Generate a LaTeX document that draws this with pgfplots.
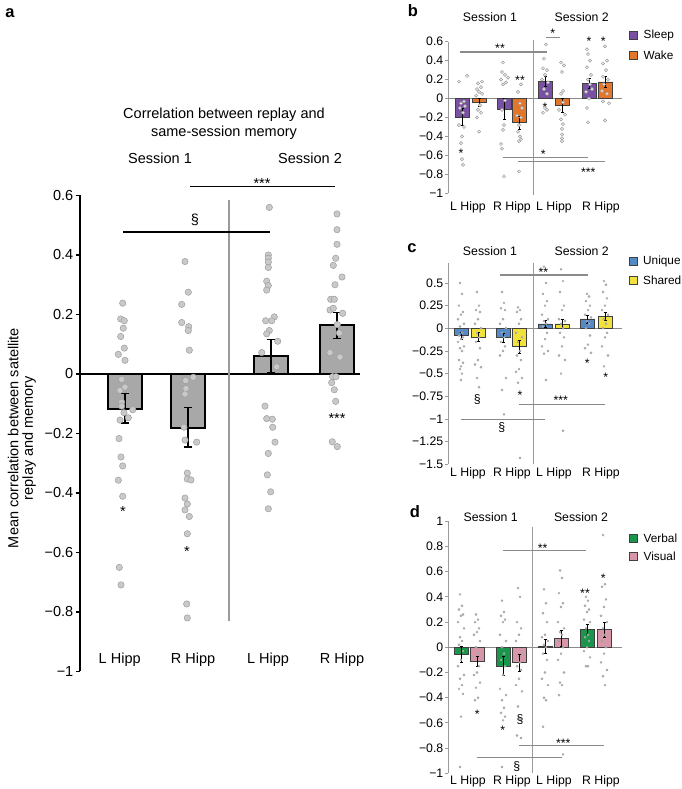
\documentclass[border=0pt]{standalone}
\usepackage{fontspec}
\setmainfont{Liberation Sans}
\usepackage{pgfplots}
\pgfplotsset{compat=1.18}
\definecolor{abar}{HTML}{A8A8A8}
\definecolor{adotf}{HTML}{C9C9C9}
\definecolor{adotd}{HTML}{9E9E9E}
\definecolor{sleep}{HTML}{7A50A2}
\definecolor{wake}{HTML}{E2762A}
\definecolor{uniq}{HTML}{558AC6}
\definecolor{shar}{HTML}{F1E13C}
\definecolor{verb}{HTML}{19964C}
\definecolor{visu}{HTML}{D897A9}
\definecolor{axg}{HTML}{9A9A9A}
\definecolor{anng}{HTML}{8A8A8A}
\definecolor{dotg}{HTML}{9C9C9C}
\definecolor{dotf}{HTML}{BDBDBD}
\newcommand{\fa}{\fontsize{14.5}{14.5}\selectfont}
\newcommand{\fb}{\fontsize{12.3}{14}\selectfont}
\newcommand{\fg}{\fontsize{11.8}{14}\selectfont}
\newcommand{\fl}{\fontsize{16.5}{17}\selectfont\bfseries}
\pgfplotsset{
  panelsm/.style={scale only axis, anchor=south west, axis x line=none, axis y line*=left, clip=false,
    xtick=\empty, tick align=outside, major tick length=3pt,
    y axis line style={axg, line width=0.8pt},
    ytick style={axg, line width=0.8pt},
    yticklabel style={font=\fb, inner sep=1.5pt},
    xmin=448, xmax=622},
  sbar/.style={ybar, bar width=14, bar shift=0pt, draw=black!75, line width=0.6pt, fill=#1},
  serr/.style={draw=none, mark=none, forget plot, error bars/.cd, y dir=both, y explicit,
    error bar style={black, line width=0.7pt}, error mark options={rotate=90, black, mark size=1.5pt, line width=0.7pt}},
  hdots/.style={only marks, mark=*, mark size=1.6pt, mark options={draw=dotg, fill=gray!12, line width=0.5pt}},
  fdots/.style={only marks, mark=*, mark size=1.1pt, mark options={draw=dotg, fill=dotf, line width=0.3pt}},
  zline/.style={anng, line width=0.8pt, forget plot},
}
\tikzset{
  sta/.style={font=\fa, anchor=base, inner sep=0pt, yshift=-8.3pt},
  stb/.style={font=\fb, anchor=base, inner sep=0pt, yshift=-7pt},
  ann/.style={anng, line width=1.1pt},
}
\begin{document}
\begin{tikzpicture}
\path[use as bounding box] (0pt,0pt) rectangle (682pt,789pt);
% ================= Panel a =================
\begin{axis}[scale only axis, at={(80pt,117.5pt)}, anchor=south west, width=280pt, height=476pt,
  xmin=80, xmax=360, ymin=-1, ymax=0.6, clip=false,
  axis x line=none, axis y line*=left, xtick=\empty,
  ytick={-1,-0.8,-0.6,-0.4,-0.2,0,0.2,0.4,0.6},
  yticklabels={−1,−0.8,−0.6,−0.4,−0.2,0,0.2,0.4,0.6},
  tick align=outside, major tick length=4.5pt,
  y axis line style={black, line width=1.4pt},
  ytick style={black, line width=1.4pt},
  yticklabel style={font=\fa, inner sep=2pt}]
\addplot[black, line width=1.4pt, forget plot] coordinates {(80,0) (360,0)};
\draw[axg, line width=1.2pt] (axis cs:229,0.585) -- (axis cs:229,-0.83);
\addplot[ybar, bar width=34, bar shift=0pt, fill=abar, draw=black, line width=2pt]
  coordinates {(125,-0.117) (188,-0.18) (271,0.06) (337,0.166)};
\addplot[only marks, mark=*, mark size=3.2pt, mark options={fill=adotf, draw=adotd, line width=0.5pt}] coordinates {
(122.7,0.238) (120.7,0.185) (124.3,0.179) (123.3,0.154) (120.7,0.126) (124.3,0.087) (118.3,0.066) (125,0.046)
(121.7,-0.018) (120,-0.055) (125,-0.044) (121.7,-0.095) (121.7,-0.108) (124,-0.13) (132.7,-0.12) (120,-0.155)
(128.3,-0.147) (119,-0.217) (121,-0.279) (122.7,-0.309) (118.3,-0.357) (122.7,-0.411) (119.3,-0.65) (121,-0.709)
(185,0.378) (188.3,0.275) (181.7,0.234) (181.7,0.173) (188.7,0.159) (188.3,0.146) (189.3,0.08) (193.3,-0.011)
(185.7,-0.022) (186,-0.049) (185,-0.067) (184,-0.179) (185,-0.222) (196.7,-0.229) (187.3,-0.333) (187.3,-0.353)
(191,-0.356) (185,-0.417) (187.3,-0.437) (185,-0.457) (189.3,-0.479) (187.3,-0.537) (186.7,-0.773) (187.3,-0.82)
(269.3,0.56) (268.3,0.4) (268.3,0.389) (268.3,0.376) (268.3,0.358) (266.7,0.312) (268.3,0.297) (266.7,0.282)
(274.3,0.192) (265.7,0.179) (271.7,0.179) (269.3,0.146) (266.7,0.135) (277.7,0.11) (261.7,0.072) (276.7,0.024)
(265,-0.108) (266.7,-0.15) (272.3,-0.152) (272.7,-0.179) (275,-0.229) (268.3,-0.267) (267.3,-0.339) (270.7,-0.396) (268.3,-0.453)
(337,0.538) (337,0.485) (337,0.436) (335.7,0.389) (333.3,0.365) (342,0.326) (335,0.3) (330.7,0.251) (334.3,0.251)
(330,0.215) (333.3,0.221) (342.7,0.204) (337.3,0.166) (339.3,0.138) (330,0.072) (340,0.057) (332.7,-0.009)
(336,-0.009) (331.7,-0.029) (334.3,-0.053) (335.7,-0.092) (332.3,-0.228) (337.3,-0.244)};
\addplot[draw=none, mark=none, forget plot, error bars/.cd, y dir=both, y explicit,
  error bar style={black, line width=1.3pt}, error mark options={rotate=90, black, mark size=4pt, line width=1.3pt}]
  coordinates {(125,-0.1145) +- (0,0.05) (188,-0.179) +- (0,0.066) (271,0.06) +- (0,0.055) (337,0.1635) +- (0,0.044)};
\draw[black, line width=1.2pt] (axis cs:190,0.629) -- (axis cs:335,0.629);
\node[sta] at (axis cs:262,0.652) {***};
\draw[black, line width=1.2pt] (axis cs:123,0.477) -- (axis cs:270,0.477);
\node[font=\fa] at (axis cs:195,0.518) {§};
\node[sta] at (axis cs:123,-0.45) {*};
\node[sta] at (axis cs:187,-0.585) {*};
\node[sta] at (axis cs:337,-0.138) {***};
\end{axis}
\node[font=\fl] at (10pt,776pt) {a};
\node[font=\fa] at (224pt,674pt) {Correlation between replay and};
\node[font=\fa] at (224pt,656.7pt) {same-session memory};
\node[font=\fa] at (160pt,630.7pt) {Session 1};
\node[font=\fa] at (310pt,630.7pt) {Session 2};
\node[font=\fa, rotate=90, align=center] at (22pt,351pt) {Mean correlation between satellite\\replay and memory};
\node[font=\fa] at (119.7pt,129pt) {L Hipp};
\node[font=\fa] at (193pt,129pt) {R Hipp};
\node[font=\fa] at (268pt,129pt) {L Hipp};
\node[font=\fa] at (342pt,129pt) {R Hipp};
% ================= Panel b =================
\begin{axis}[panelsm, at={(448pt,595.7pt)}, width=174pt, height=151.6pt, ymin=-1, ymax=0.6,
  ytick={-1,-0.8,-0.6,-0.4,-0.2,0,0.2,0.4,0.6},
  yticklabels={−1,−0.8,−0.6,−0.4,−0.2,0,0.2,0.4,0.6}]
\addplot[zline] coordinates {(448,0) (622,0)};
\draw[axg, line width=0.8pt] (axis cs:533.3,0.614) -- (axis cs:533.3,-1.02);
\addplot[sbar=sleep] coordinates {(462,-0.193) (504,-0.112) (545.5,0.182) (589,0.158)};
\addplot[sbar=wake] coordinates {(479,-0.042) (519.5,-0.253) (562,-0.074) (605,0.175)};
\addplot[hdots] coordinates {
(467,0.24) (459,0.18) (464,-0.03) (461,-0.05) (465,-0.08) (460,-0.1) (463,-0.15) (459,-0.28) (464,-0.3) (462,-0.4) (461,-0.47) (462,-0.64) (463,-0.7)
(482,0.18) (478,0.16) (481,0.12) (477,0.1) (479,0.07) (482,0.05) (476,0.03) (480,-0.07) (478,-0.12) (481,-0.15) (477,-0.2) (479,-0.35)
(503,0.38) (502,0.28) (505,0.25) (508,0.22) (501,0.2) (506,0.17) (503,0.15) (505,-0.02) (502,-0.12) (504,-0.28) (503,-0.33) (501,-0.48) (502,-0.53) (504,-0.82)
(521,0.15) (518,0.07) (520,-0.05) (522,-0.1) (517,-0.18) (521,-0.2) (519,-0.28) (518,-0.35) (520,-0.4) (521,-0.43) (519,-0.45) (519,-0.77)
(546,0.57) (544,0.42) (543,0.32) (547,0.3) (545,0.25) (542,0.2) (548,0.17) (544,0.1) (547,0.05) (545,-0.1) (543,-0.15) (547,-0.12)
(561,0.38) (564,0.35) (562,0.28) (563,0.08) (561,0.05) (563,-0.04) (559,-0.12) (565,-0.17) (561,-0.22) (563,-0.27) (562,-0.32) (562,-0.38) (562,-0.42) (562,-0.45)
(587,0.52) (588,0.47) (590,0.4) (587,0.33) (591,0.25) (588,0.2) (590,0.15) (592,0.1) (586,0.07) (589,0.0) (587,-0.1) (588,-0.25)
(605,0.55) (607,0.4) (603,0.37) (606,0.3) (603,0.23) (608,0.2) (604,0.15) (602,0.08) (607,0.05) (603,-0.03) (609,-0.05) (605,-0.23)};
\addplot[serr] coordinates {(462,-0.193) +- (0,0.085) (479,-0.042) +- (0,0.045) (504,-0.112) +- (0,0.11) (519.5,-0.253) +- (0,0.07)
  (545.5,0.182) +- (0,0.055) (562,-0.074) +- (0,0.075) (589,0.158) +- (0,0.055) (605,0.175) +- (0,0.055)};
\draw[ann] (axis cs:460,0.491) -- (axis cs:546.7,0.491);
\node[stb] at (axis cs:500,0.561) {**};
\draw[ann] (axis cs:546,0.642) -- (axis cs:560,0.642);
\node[stb] at (axis cs:552.7,0.72) {*};
\node[stb] at (axis cs:520,0.221) {**};
\node[stb] at (axis cs:461,-0.544) {*};
\node[stb] at (axis cs:545,-0.06) {*};
\node[stb] at (axis cs:589,0.632) {*};
\node[stb] at (axis cs:603.3,0.632) {*};
\draw[ann] (axis cs:503.3,-0.625) -- (axis cs:588.3,-0.625);
\node[stb] at (axis cs:543.3,-0.561) {*};
\draw[ann] (axis cs:518.3,-0.667) -- (axis cs:605,-0.667);
\node[stb] at (axis cs:588.3,-0.747) {***};
\end{axis}
\node[font=\fl] at (413pt,778pt) {b};
\node[font=\fb] at (490pt,772.3pt) {Session 1};
\node[font=\fb] at (581.7pt,772.3pt) {Session 2};
\node[font=\fb] at (468pt,582pt) {L Hipp};
\node[font=\fb] at (512pt,582pt) {R Hipp};
\node[font=\fb] at (554pt,582pt) {L Hipp};
\node[font=\fb] at (601pt,582pt) {R Hipp};
\filldraw[fill=sleep, draw=black!75, line width=0.6pt] (629.3pt,749.3pt) rectangle (637.3pt,757.3pt);
\node[font=\fg, anchor=west, inner sep=0pt] at (643.5pt,753.3pt) {Sleep};
\filldraw[fill=wake, draw=black!75, line width=0.6pt] (629.3pt,730pt) rectangle (637.3pt,738pt);
\node[font=\fg, anchor=west, inner sep=0pt] at (643.5pt,734pt) {Wake};
% ================= Panel c =================
\begin{axis}[panelsm, at={(448pt,324.7pt)}, width=174pt, height=201.3pt, ymin=-1.5, ymax=0.72,
  ytick={-1.5,-1.25,-1,-0.75,-0.5,-0.25,0,0.25,0.5},
  yticklabels={−1.5,−1.25,−1,−0.75,−0.5,−0.25,0,0.25,0.5}]
\addplot[zline] coordinates {(448,0) (622,0)};
\draw[axg, line width=0.8pt] (axis cs:533.3,0.72) -- (axis cs:533.3,-1.5);
\addplot[sbar=uniq] coordinates {(461,-0.081) (503,-0.103) (545,0.048) (587.5,0.103)};
\addplot[sbar=shar] coordinates {(478,-0.099) (519,-0.202) (562,0.048) (605,0.129)};
\addplot[fdots] coordinates {
(460,0.5) (462,0.38) (459,0.25) (463,0.18) (461,0.15) (458,0.1) (464,0.05) (460,0.02) (462,-0.05) (459,-0.08) (463,-0.1)
(461,-0.12) (458,-0.15) (464,-0.2) (460,-0.22) (462,-0.25) (459,-0.35) (463,-0.38) (461,-0.42) (460,-0.45) (462,-0.5) (461,-0.57)
(477,0.4) (479,0.25) (476,0.2) (480,0.18) (478,0.1) (475,0.05) (481,0.0) (477,-0.05) (479,-0.1) (476,-0.15) (480,-0.22) (478,-0.35) (475,-0.4) (481,-0.43) (477,-0.55) (479,-0.65)
(502,0.4) (504,0.28) (501,0.22) (505,0.2) (503,0.1) (500,0.05) (506,0.0) (502,-0.05) (504,-0.1) (501,-0.15) (505,-0.2) (503,-0.25) (500,-0.3) (506,-0.55) (502,-0.68) (504,-0.95)
(518,0.23) (520,0.2) (517,0.18) (521,0.1) (519,0.05) (516,-0.05) (522,-0.1) (518,-0.15) (520,-0.25) (517,-0.3) (521,-0.35) (519,-0.45) (516,-0.48) (522,-0.55) (518,-0.6) (520,-1.43)
(544,0.68) (546,0.5) (543,0.38) (547,0.3) (545,0.25) (542,0.15) (548,0.1) (544,0.08) (546,0.05) (543,0.02) (547,-0.05) (545,-0.12) (542,-0.2) (548,-0.25) (544,-0.28) (546,-0.57)
(561,0.65) (563,0.52) (560,0.4) (564,0.25) (562,0.2) (559,0.1) (565,0.08) (561,0.05) (563,0.0) (560,-0.05) (564,-0.1) (562,-0.2) (559,-0.3) (565,-0.35) (561,-0.5) (563,-1.13)
(587,0.38) (589,0.35) (586,0.3) (590,0.25) (588,0.2) (585,0.15) (591,0.12) (587,0.08) (589,0.05) (586,0.0) (590,-0.08) (588,-0.18) (585,-0.22) (591,-0.27)
(604,0.52) (606,0.48) (603,0.4) (607,0.33) (605,0.25) (602,0.2) (608,0.15) (604,0.1) (606,0.05) (603,0.0) (607,-0.05) (605,-0.1) (602,-0.2) (608,-0.3) (604,-0.42)};
\addplot[serr] coordinates {(461,-0.081) +- (0,0.04) (478,-0.099) +- (0,0.05) (503,-0.103) +- (0,0.05) (519,-0.202) +- (0,0.07)
  (545,0.048) +- (0,0.04) (562,0.048) +- (0,0.05) (587.5,0.103) +- (0,0.045) (605,0.129) +- (0,0.045)};
\draw[ann] (axis cs:500,0.588) -- (axis cs:588.3,0.588);
\node[stb] at (axis cs:543.3,0.643) {**};
\node[font=\fb] at (axis cs:477.3,-0.79) {§};
\node[stb] at (axis cs:520,-0.71) {*};
\draw[ann] (axis cs:519.3,-0.838) -- (axis cs:605,-0.838);
\node[stb] at (axis cs:560.7,-0.761) {***};
\draw[ann] (axis cs:461,-1.004) -- (axis cs:545,-1.004);
\node[font=\fb] at (axis cs:501.7,-1.096) {§};
\node[stb] at (axis cs:587.3,-0.36) {*};
\node[stb] at (axis cs:605.7,-0.515) {*};
\end{axis}
\node[font=\fl] at (412pt,541pt) {c};
\node[font=\fb] at (490pt,538.3pt) {Session 1};
\node[font=\fb] at (581.7pt,538.3pt) {Session 2};
\node[font=\fb] at (468pt,316pt) {L Hipp};
\node[font=\fb] at (512pt,316pt) {R Hipp};
\node[font=\fb] at (554pt,316pt) {L Hipp};
\node[font=\fb] at (601pt,316pt) {R Hipp};
\filldraw[fill=uniq, draw=black!75, line width=0.6pt] (629.3pt,524pt) rectangle (637.3pt,532pt);
\node[font=\fg, anchor=west, inner sep=0pt] at (643pt,528pt) {Unique};
\filldraw[fill=shar, draw=black!75, line width=0.6pt] (629.3pt,504.3pt) rectangle (637.3pt,512.3pt);
\node[font=\fg, anchor=west, inner sep=0pt] at (643pt,508.3pt) {Shared};
% ================= Panel d =================
\begin{axis}[panelsm, at={(448pt,15.7pt)}, width=174pt, height=252pt, ymin=-1, ymax=1,
  ytick={-1,-0.8,-0.6,-0.4,-0.2,0,0.2,0.4,0.6,0.8,1},
  yticklabels={−1,−0.8,−0.6,−0.4,−0.2,0,0.2,0.4,0.6,0.8,1}]
\addplot[zline] coordinates {(448,0) (622,0)};
\draw[axg, line width=0.8pt] (axis cs:532.3,0.958) -- (axis cs:532.3,-1);
\addplot[sbar=verb] coordinates {(461,-0.056) (503,-0.148) (545,0.005) (587,0.14)};
\addplot[sbar=visu] coordinates {(477,-0.114) (519,-0.122) (561,0.071) (604,0.14)};
\addplot[fdots] coordinates {
(460,0.42) (462,0.33) (459,0.3) (463,0.26) (461,0.25) (458,0.2) (464,0.15) (460,0.08) (462,0.05) (459,0.02) (463,-0.03) (461,-0.1) (458,-0.15) (464,-0.22) (460,-0.25) (462,-0.3) (459,-0.33) (463,-0.37) (461,-0.55) (460,-0.95)
(476,0.26) (478,0.22) (475,0.2) (479,0.15) (477,0.12) (474,0.1) (480,0.05) (476,0.0) (478,-0.05) (475,-0.08) (479,-0.15) (477,-0.2) (474,-0.22) (480,-0.28) (476,-0.32) (478,-0.4) (475,-0.42)
(502,0.37) (504,0.28) (501,0.25) (505,0.22) (503,0.2) (500,0.1) (506,0.05) (502,0.0) (504,-0.05) (501,-0.1) (505,-0.15) (503,-0.22) (500,-0.33) (506,-0.38) (502,-0.42) (504,-0.48) (501,-0.52) (505,-0.55) (503,-0.58) (502,-0.95)
(518,0.47) (520,0.4) (517,0.2) (521,0.15) (519,0.1) (516,0.05) (522,-0.05) (518,-0.08) (520,-0.12) (517,-0.15) (521,-0.18) (519,-0.25) (516,-0.3) (522,-0.35) (518,-0.47) (520,-0.57) (517,-0.7) (521,-0.72)
(544,0.46) (546,0.35) (543,0.27) (547,0.2) (545,0.1) (542,0.08) (548,0.05) (544,0.02) (546,0.0) (543,-0.05) (547,-0.1) (545,-0.2) (542,-0.25) (548,-0.3) (544,-0.4) (546,-0.42) (543,-0.63)
(560,0.61) (562,0.55) (559,0.43) (563,0.35) (561,0.32) (558,0.2) (564,0.15) (560,0.12) (562,0.1) (559,0.05) (563,0.0) (561,-0.05) (558,-0.1) (564,-0.2) (560,-0.28) (562,-0.3) (559,-0.38) (563,-0.85)
(586,0.4) (588,0.37) (585,0.33) (589,0.3) (587,0.28) (584,0.22) (590,0.2) (586,0.15) (588,0.1) (585,0.08) (589,0.05) (587,0.0) (584,-0.03) (590,-0.08) (586,-0.15) (588,-0.15)
(603,0.89) (605,0.5) (602,0.48) (606,0.38) (604,0.32) (601,0.25) (607,0.2) (603,0.15) (605,0.1) (602,0.05) (606,0.0) (604,-0.05) (601,-0.12) (607,-0.18) (603,-0.23) (605,-0.3)};
\addplot[serr] coordinates {(461,-0.056) +- (0,0.065) (477,-0.114) +- (0,0.04) (503,-0.148) +- (0,0.075) (519,-0.122) +- (0,0.065)
  (545,0.005) +- (0,0.055) (561,0.071) +- (0,0.06) (587,0.14) +- (0,0.04) (604,0.14) +- (0,0.06)};
\draw[ann] (axis cs:502.7,0.767) -- (axis cs:586,0.767);
\node[stb] at (axis cs:542.7,0.807) {**};
\node[stb] at (axis cs:477.3,-0.511) {*};
\node[stb] at (axis cs:502.7,-0.635) {*};
\node[font=\fb] at (axis cs:520,-0.577) {§};
\node[stb] at (axis cs:585,0.447) {**};
\node[stb] at (axis cs:603.3,0.566) {*};
\draw[ann] (axis cs:519.3,-0.78) -- (axis cs:604,-0.78);
\node[stb] at (axis cs:563.3,-0.741) {***};
\draw[ann] (axis cs:476.7,-0.873) -- (axis cs:561.7,-0.873);
\node[font=\fb] at (axis cs:516.7,-0.947) {§};
\end{axis}
\node[font=\fl] at (415pt,277.3pt) {d};
\node[font=\fb] at (490.7pt,271.7pt) {Session 1};
\node[font=\fb] at (581pt,271.7pt) {Session 2};
\node[font=\fb] at (468pt,7.3pt) {L Hipp};
\node[font=\fb] at (512pt,7.3pt) {R Hipp};
\node[font=\fb] at (554pt,7.3pt) {L Hipp};
\node[font=\fb] at (601pt,7.3pt) {R Hipp};
\filldraw[fill=verb, draw=black!75, line width=0.6pt] (629.3pt,246.7pt) rectangle (637.3pt,254.7pt);
\node[font=\fg, anchor=west, inner sep=0pt] at (643.5pt,250.7pt) {Verbal};
\filldraw[fill=visu, draw=black!75, line width=0.6pt] (629.3pt,228.3pt) rectangle (637.3pt,236.3pt);
\node[font=\fg, anchor=west, inner sep=0pt] at (643.5pt,232.3pt) {Visual};
\end{tikzpicture}
\end{document}
